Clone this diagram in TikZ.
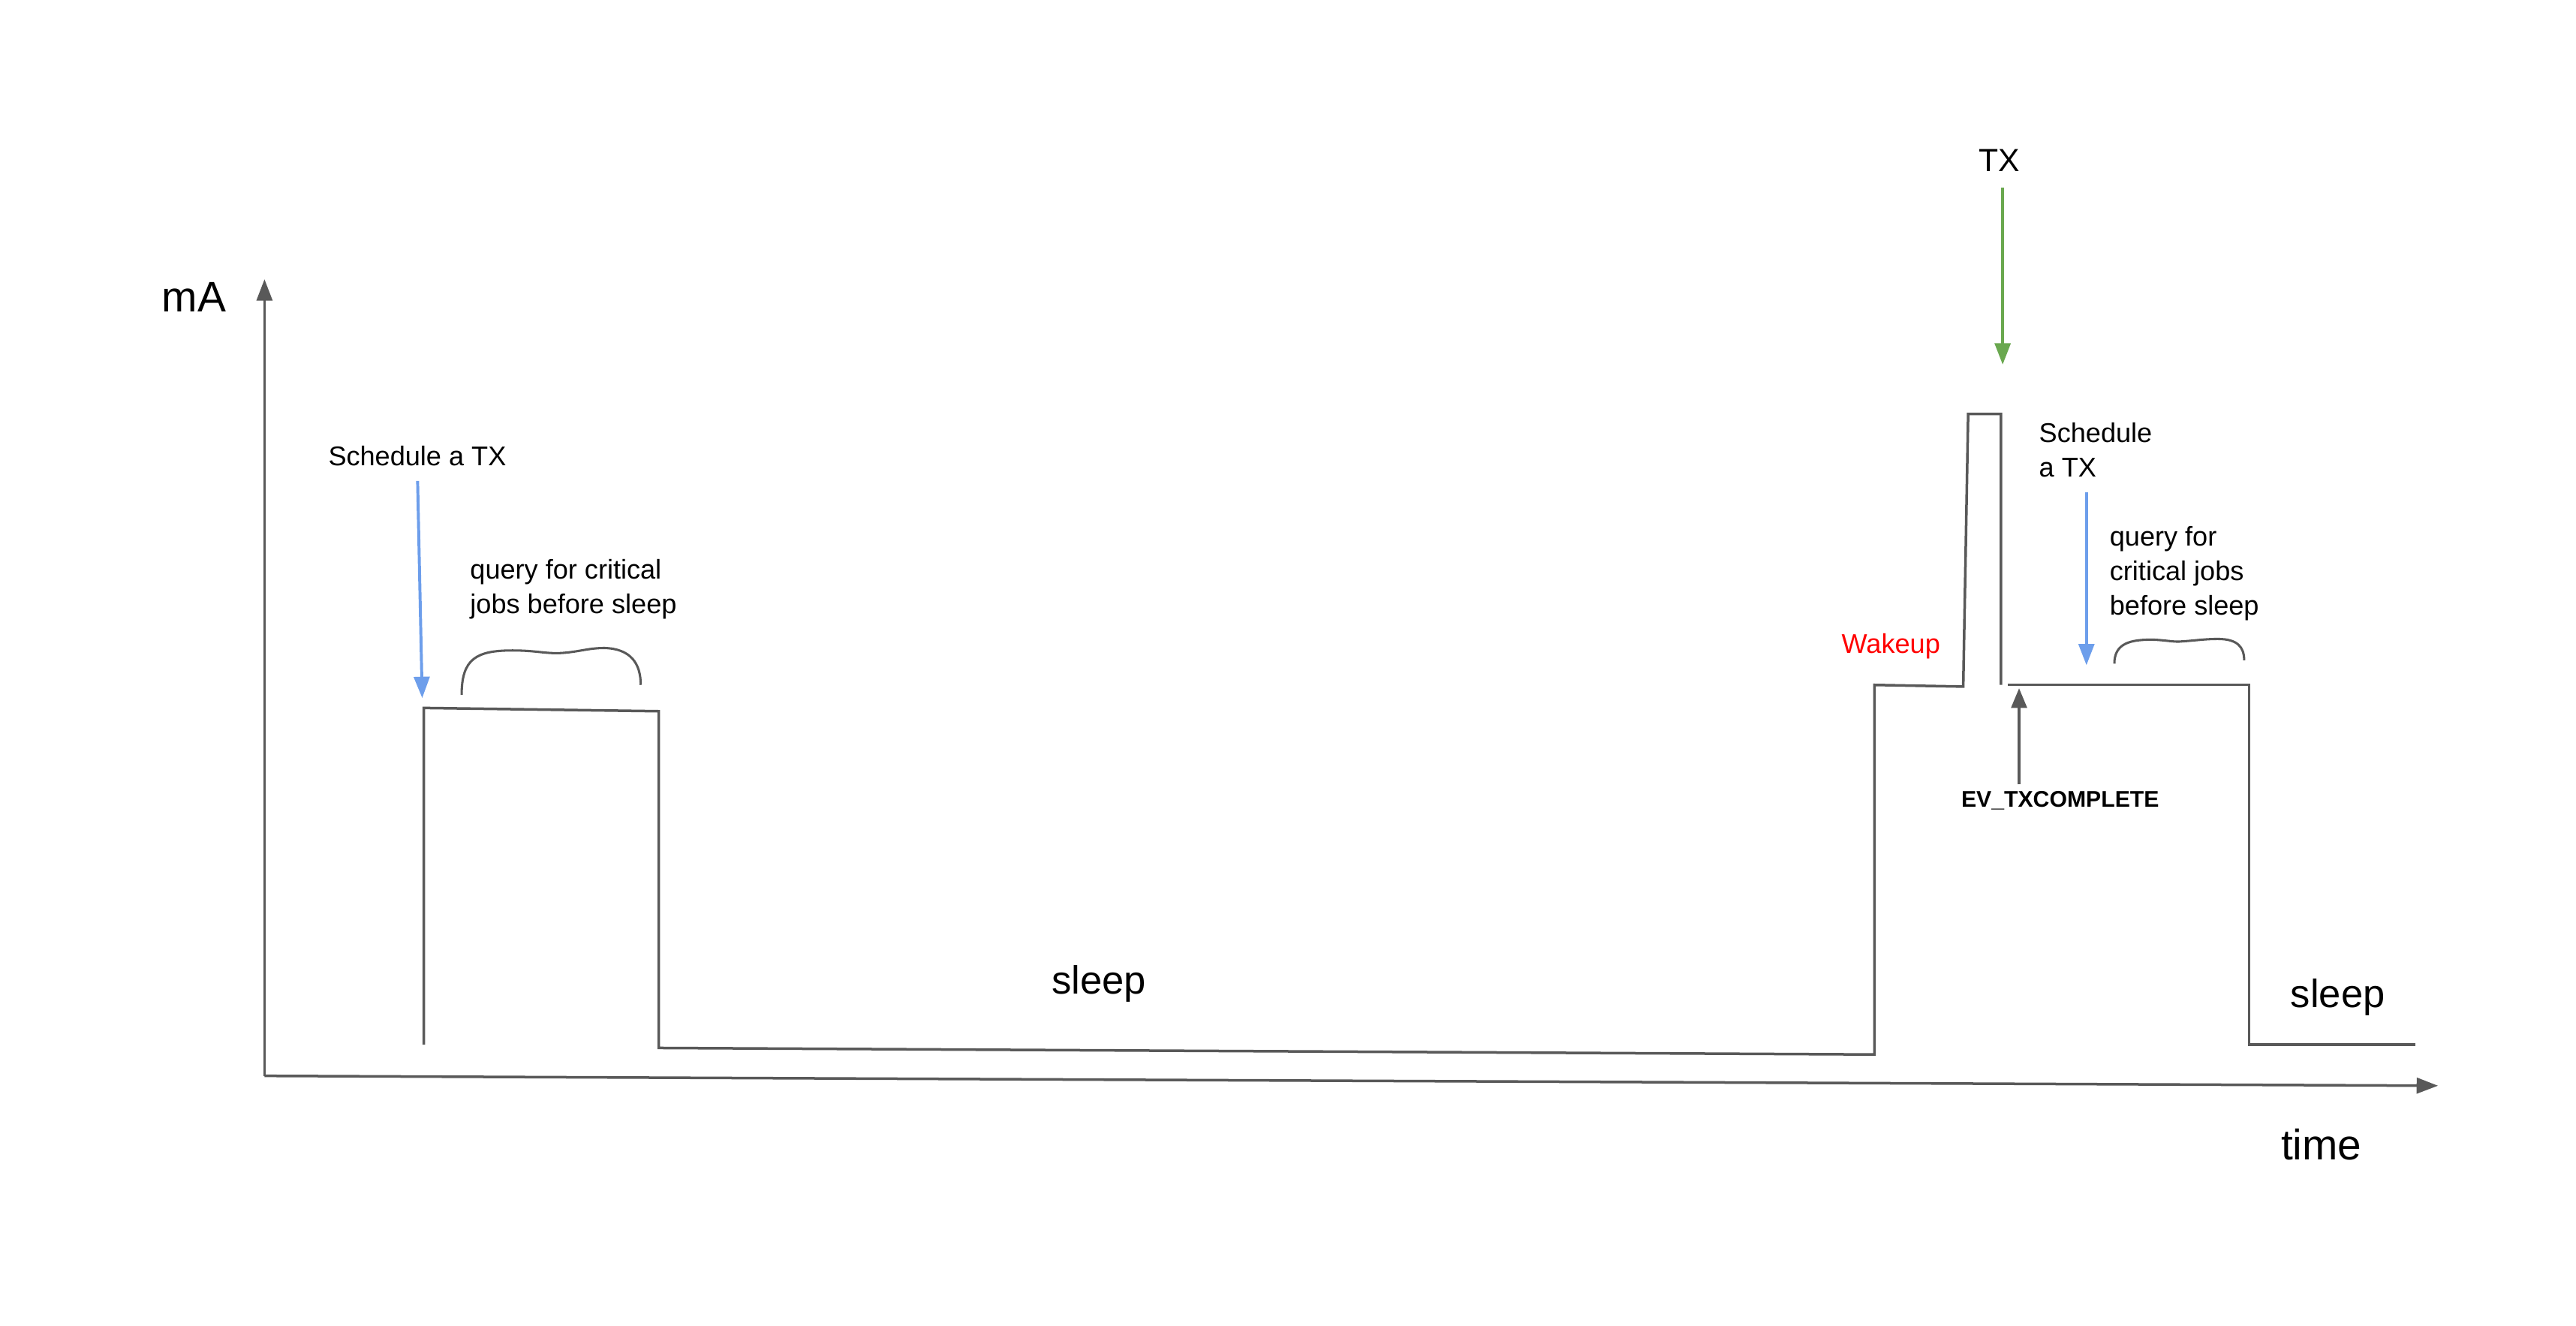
\documentclass[tikz,border=0pt]{standalone}
\usepackage{fontspec}
\setmainfont{Liberation Sans}
\usetikzlibrary{arrows.meta,
	calc,
	positioning}
\definecolor{linegray}{HTML}{595959}
\definecolor{schedblue}{HTML}{6D9EEB}
\definecolor{txgreen}{HTML}{6AA84F}

\begin{document}
\begin{tikzpicture}[x=1pt, y=-1pt,
	wave/.style={draw=linegray, line width=1.6pt},
	brace/.style={draw=linegray, line width=1.4pt},
	axis/.style={draw=linegray, line width=1.6pt, -{Triangle[length=13pt,width=9.5pt]}},
	schedarrow/.style={draw=schedblue, line width=1.8pt, -{Triangle[length=13pt,width=9.5pt]}},
	txarrow/.style={draw=txgreen, line width=1.8pt, -{Triangle[length=13pt,width=9.5pt]}},
	evarrow/.style={draw=linegray, line width=1.6pt, -{Triangle[length=12pt,width=9.5pt]}},
	lbl/.style={inner sep=0pt, align=left, font=\fontsize{16.5}{21}\selectfont},
	biglbl/.style={inner sep=0pt, font=\fontsize{24}{28}\selectfont}]
	\useasboundingbox (0,0) rectangle (1568,806.85);
	% axes
	\coordinate (origin) at (161,655);
	\coordinate (ytip) at (161,170);
	\coordinate (xtip) at (1484,661);
	\draw[axis] (origin) -- (ytip);
	\draw[axis] (origin) -- (xtip);
	\node (ma) [biglbl, font=\fontsize{26}{30}\selectfont] at (118,181) {mA};
	\node (time) [biglbl, font=\fontsize{26}{30}\selectfont] at (1413,697) {time};
	% current trace
	\coordinate (rise1) at (258,636);
	\coordinate (top1l) at (258,431);
	\coordinate (top1r) at (401,433);
	\coordinate (fall1) at (401,638);
	\coordinate (wake0) at (1141,642);
	\coordinate (wake1) at (1141,417);
	\coordinate (wake2) at (1195,418);
	\coordinate (spikel) at (1198,252);
	\coordinate (spiker) at (1218,252);
	\coordinate (spikeb) at (1218,417);
	\coordinate (top2l) at (1222,417);
	\coordinate (top2r) at (1369,417);
	\coordinate (fall2) at (1369,636);
	\coordinate (end2) at (1470,636);
	\draw[wave] (rise1) -- (top1l) -- (top1r) -- (fall1) -- (wake0) -- (wake1) -- (wake2) -- (spikel) -- (spiker) -- (spikeb);
	\draw[wave] (top2l) -- (top2r) -- (fall2) -- (end2);
	% first wake
	\node (sched1) [lbl] at (254,277.5) {Schedule a TX};
	\coordinate (s1tip) at (257,425);
	\draw[schedarrow, shorten <=9pt] (sched1.south) -- (s1tip);
	\node (query1) [lbl, anchor=west] at (286,358.5) {query for critical\\jobs before sleep};
	\draw[brace] (281,423) .. controls (281,401) and (290,396) .. (312,396) .. controls (326,396) and (332,398) .. (341,397.6) .. controls (352,397) and (358,394.5) .. (368,394.5) .. controls (384,395) and (390,404) .. (390,417);
	\node (sleep1) [biglbl] at (669,599) {sleep};
	% second wake
	\node (wakeup) [lbl, text=red] at (1151,393.5) {Wakeup};
	\node (tx) [biglbl, font=\fontsize{19.5}{23}\selectfont] at (1217,97.5) {TX};
	\coordinate (txtip) at (1219,222);
	\draw[txarrow, shorten <=10pt] (tx.south -| txtip) -- (txtip);
	\node (sched2) [lbl, anchor=west] at (1241,274) {Schedule\\a TX};
	\coordinate (s2tip) at (1270,405);
	\draw[schedarrow, shorten <=9pt] (sched2.south -| s2tip) -- (s2tip);
	\node (query2) [lbl, anchor=west] at (1284,349) {query for\\critical jobs\\before sleep};
	\draw[brace] (1287,404) .. controls (1287,392) and (1296,389) .. (1312,389.5) .. controls (1320,390) and (1324,391) .. (1328,390.5) .. controls (1336,390) and (1342,389) .. (1350,389) .. controls (1362,389) and (1366,394) .. (1366,402);
	\node (evtx) [inner sep=0pt, font=\fontsize{13.8}{16}\selectfont\bfseries] at (1254,487.5) {EV\_TXCOMPLETE};
	\coordinate (evtip) at (1229,419);
	\draw[evarrow, shorten <=4pt] (evtx.north -| evtip) -- (evtip);
	\node (sleep2) [biglbl] at (1423,607) {sleep};
\end{tikzpicture}
\end{document}
